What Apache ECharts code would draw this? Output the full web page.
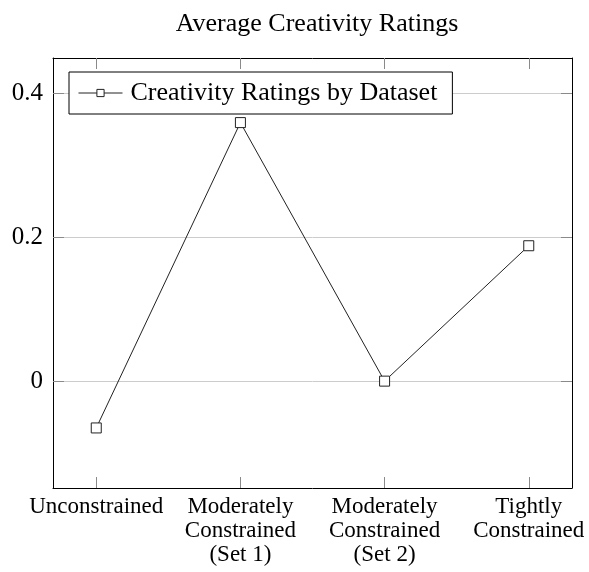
<!DOCTYPE html>
<html>
<head>
<meta charset="utf-8">
<script src="https://cdn.jsdelivr.net/npm/echarts@6/dist/echarts.min.js"></script>
<style>html,body{margin:0;padding:0;background:#fff}#c{width:589px;height:572px}</style>
</head>
<body>
<div id="c"></div>
<script>
const categories = ["Unconstrained", "Moderately\nConstrained\n(Set 1)", "Moderately\nConstrained\n(Set 2)", "Tightly\nConstrained"];
const ratings = [-0.065, 0.359, 0.0, 0.188];
const yTicks = [0, 0.2, 0.4];
const seriesName = "Creativity Ratings by Dataset";
const titleText = "Average Creativity Ratings";

const FONT = '"Liberation Serif", "Times New Roman", serif';
const xIdx = categories.map((_, i) => i);
const points = ratings.map((v, i) => [i, v]);

const chart = echarts.init(document.getElementById('c'), null, {renderer: 'canvas'});
const tickStyle = {show: true, inside: true, length: 11, lineStyle: {color: '#8a8a8a', width: 1}};
chart.setOption({
  animation: false,
  backgroundColor: '#fff',
  title: {text: titleText, left: 312, textAlign: 'center', top: 6,
    textStyle: {fontFamily: FONT, fontSize: 26, fontWeight: 'normal', color: '#000'}},
  grid: {left: 53, right: 17, top: 58, bottom: 84, containLabel: false},
  legend: {
    data: [seriesName], left: 69, top: 72, orient: 'horizontal',
    backgroundColor: '#fff', borderColor: '#000', borderWidth: 1,
    padding: [8, 15, 8, 9], itemWidth: 44, itemHeight: 9,
    lineStyle: {width: 1, color: '#222'},
    itemStyle: {color: '#fff', borderColor: '#222', borderWidth: 1},
    textStyle: {fontFamily: FONT, fontSize: 26, color: '#000', padding: [0, 0, 0, 3]}
  },
  xAxis: [{
    type: 'value', min: -0.3, max: 3.3, position: 'bottom',
    axisLine: {show: true, onZero: false, lineStyle: {color: '#000', width: 1}},
    axisTick: Object.assign({customValues: xIdx}, tickStyle),
    axisLabel: {customValues: xIdx, margin: 7, fontFamily: FONT, fontSize: 23, color: '#000', lineHeight: 24,
      formatter: v => categories[Math.round(v)] || ''},
    splitLine: {show: false}
  }, {
    type: 'value', min: -0.3, max: 3.3, position: 'top',
    axisLine: {show: true, onZero: false, lineStyle: {color: '#000', width: 1}},
    axisTick: Object.assign({customValues: xIdx}, tickStyle),
    axisLabel: {show: false}, splitLine: {show: false}
  }],
  yAxis: [{
    type: 'value', min: -0.1484, max: 0.4487, position: 'left',
    axisLine: {show: true, onZero: false, lineStyle: {color: '#000', width: 1}},
    axisTick: Object.assign({customValues: yTicks}, tickStyle),
    axisLabel: {customValues: yTicks, margin: 10, fontFamily: FONT, fontSize: 25, color: '#000',
      formatter: v => (Math.abs(v) < 1e-9 ? '0' : String(+v.toFixed(1)))},
    splitLine: {show: true, lineStyle: {color: '#cccccc', width: 1}}
  }, {
    type: 'value', min: -0.1484, max: 0.4487, position: 'right',
    axisLine: {show: true, onZero: false, lineStyle: {color: '#000', width: 1}},
    axisTick: Object.assign({customValues: yTicks}, tickStyle),
    axisLabel: {show: false}, splitLine: {show: false}
  }],
  series: [{
    name: seriesName, type: 'line', data: points, xAxisIndex: 0, yAxisIndex: 0,
    symbol: 'rect', symbolSize: 10, showSymbol: true,
    lineStyle: {color: '#222', width: 1},
    itemStyle: {color: '#fff', borderColor: '#222', borderWidth: 1},
    emphasis: {disabled: true}
  }]
});
</script>
</body>
</html>
